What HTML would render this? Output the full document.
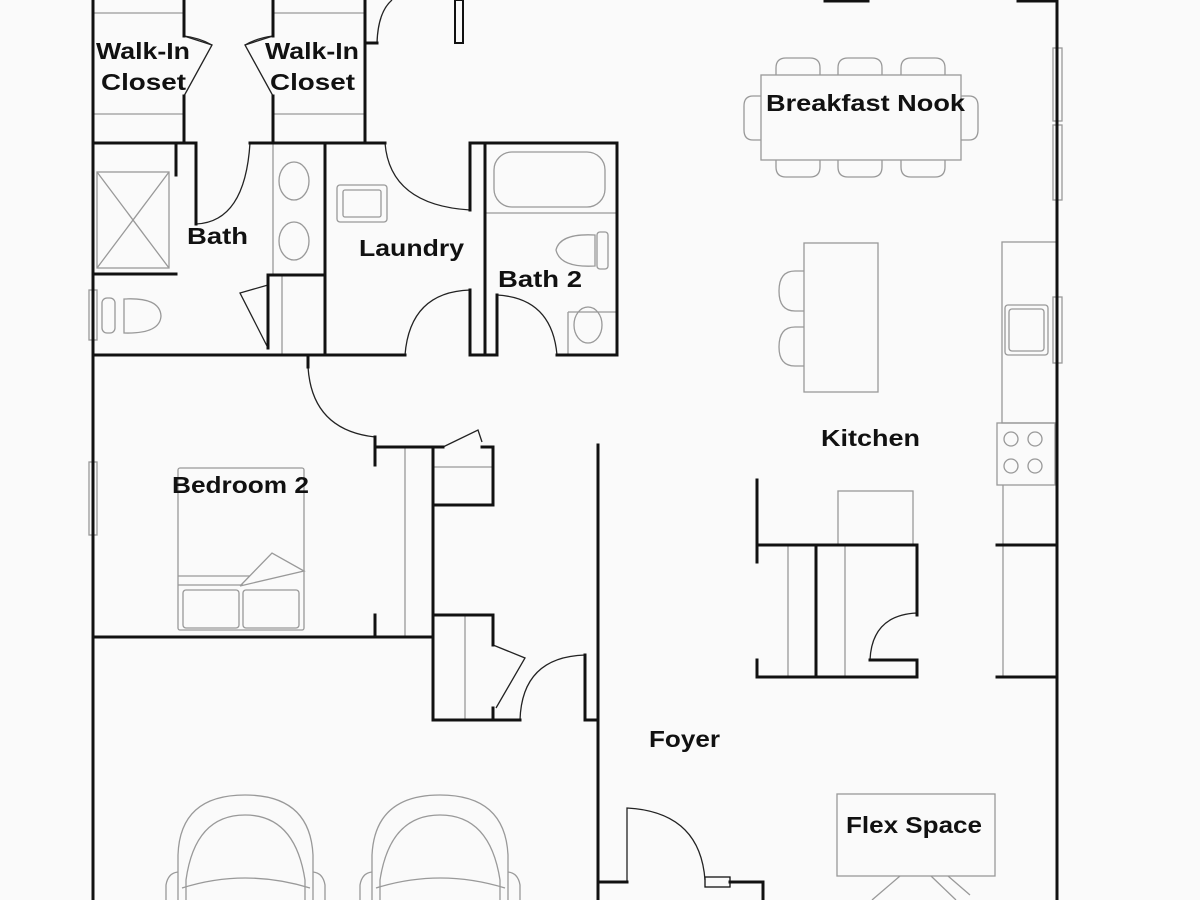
<!DOCTYPE html>
<html><head><style>
html,body{margin:0;padding:0;background:#fafafa;}
svg{display:block;}
text{font-family:"Liberation Sans",sans-serif;font-weight:bold;font-size:23px;fill:#111;}
</style></head><body>
<svg width="1200" height="900" viewBox="0 0 1200 900" xmlns="http://www.w3.org/2000/svg">
<rect width="1200" height="900" fill="#fafafa"/>
<g fill="none" stroke="#999" stroke-width="1.3">
  <line x1="93" y1="13" x2="184" y2="13"/><line x1="93" y1="114" x2="184" y2="114"/>
  <line x1="273" y1="13" x2="365" y2="13"/><line x1="273" y1="114" x2="365" y2="114"/>
  <rect x="97" y="172" width="72" height="96"/>
  <line x1="97" y1="172" x2="169" y2="268"/><line x1="169" y1="172" x2="97" y2="268"/>
  <line x1="273" y1="143" x2="273" y2="275"/>
  <ellipse cx="294" cy="181" rx="15" ry="19"/><ellipse cx="294" cy="241" rx="15" ry="19"/>
  <line x1="282" y1="275" x2="282" y2="355"/>
  <rect x="102" y="298" width="13" height="35" rx="5"/>
  <path d="M124 299 Q160 297 161 316 Q160 334 124 333 Z"/>
  <rect x="337" y="185" width="50" height="37" rx="3"/><rect x="343" y="190" width="38" height="27" rx="2"/>
  <rect x="494" y="152" width="111" height="55" rx="18"/>
  <line x1="485" y1="213" x2="617" y2="213"/>
  <path d="M595 235 Q560 233 556 250 Q560 268 595 266 Z"/><rect x="597" y="232" width="11" height="37" rx="3"/>
  <line x1="568" y1="312" x2="617" y2="312"/><line x1="568" y1="312" x2="568" y2="355"/>
  <ellipse cx="588" cy="325" rx="14" ry="18"/>
  <rect x="178" y="468" width="126" height="162" rx="2"/>
  <line x1="178" y1="576" x2="250" y2="576"/><line x1="178" y1="585" x2="243" y2="585"/>
  <polyline points="240,586 272,553 304,571 240,586"/>
  <rect x="183" y="590" width="56" height="38" rx="3"/><rect x="243" y="590" width="56" height="38" rx="3"/>
  <line x1="405" y1="447" x2="405" y2="637"/>
  <line x1="433" y1="467" x2="493" y2="467"/>
  <line x1="465" y1="615" x2="465" y2="720"/>
  <g>
   <path d="M178 900 L178 855 Q180 795 245 795 Q310 795 313 855 L313 900"/>
   <path d="M186 900 L186 880 Q195 815 245 815 Q295 815 305 880 L305 900"/>
   <path d="M178 872 Q168 873 166 885 L166 900"/><path d="M313 872 Q323 873 325 885 L325 900"/>
   <path d="M182 888 Q245 868 310 888"/>
   <path d="M372 900 L372 855 Q375 795 440 795 Q505 795 508 855 L508 900"/>
   <path d="M380 900 L380 880 Q390 815 440 815 Q490 815 500 880 L500 900"/>
   <path d="M372 872 Q362 873 360 885 L360 900"/><path d="M508 872 Q518 873 520 885 L520 900"/>
   <path d="M376 888 Q440 868 505 888"/>
  </g>
  <rect x="761" y="75" width="200" height="85"/>
  <path d="M776 75 V68 Q776 58 786 58 H810 Q820 58 820 68 V75"/>
  <path d="M838 75 V68 Q838 58 848 58 H872 Q882 58 882 68 V75"/>
  <path d="M901 75 V68 Q901 58 911 58 H935 Q945 58 945 68 V75"/>
  <path d="M776 160 V167 Q776 177 786 177 H810 Q820 177 820 167 V160"/>
  <path d="M838 160 V167 Q838 177 848 177 H872 Q882 177 882 167 V160"/>
  <path d="M901 160 V167 Q901 177 911 177 H935 Q945 177 945 167 V160"/>
  <path d="M761 96 H753 Q744 96 744 106 V130 Q744 140 753 140 H761"/>
  <path d="M961 96 H969 Q978 96 978 106 V130 Q978 140 969 140 H961"/>
  <rect x="804" y="243" width="74" height="149"/>
  <path d="M804 271 H795 Q779 271 779 291 Q779 311 795 311 H804"/>
  <path d="M804 327 H795 Q779 327 779 347 Q779 366 795 366 H804"/>
  <rect x="1002" y="242" width="55" height="181"/>
  <rect x="1005" y="305" width="43" height="50" rx="3"/><rect x="1009" y="309" width="35" height="42" rx="3"/>
  <rect x="997" y="423" width="58" height="62"/>
  <circle cx="1011" cy="439" r="7"/><circle cx="1035" cy="439" r="7"/>
  <circle cx="1011" cy="466" r="7"/><circle cx="1035" cy="466" r="7"/>
  <line x1="1003" y1="485" x2="1003" y2="677"/>
  <rect x="838" y="491" width="75" height="54"/>
  <line x1="788" y1="545" x2="788" y2="677"/><line x1="845" y1="545" x2="845" y2="677"/>
  <rect x="837" y="794" width="158" height="82"/>
  <path d="M900 876 L872 900 M931 876 L956 900 M948 876 L970 895"/>
  <rect x="89" y="290" width="8" height="50" fill="#fafafa"/>
  <rect x="89" y="462" width="8" height="73" fill="#fafafa"/>
  <rect x="1053" y="48" width="9" height="73" fill="#fafafa"/>
  <rect x="1053" y="125" width="9" height="75" fill="#fafafa"/>
  <rect x="1053" y="297" width="9" height="66" fill="#fafafa"/>
  <rect x="455" y="0" width="8" height="43" fill="#fafafa" stroke="#111" stroke-width="2"/>
  <rect x="705" y="877" width="25" height="10" fill="#fafafa" stroke="#111"/>
</g>
<g fill="none" stroke="#222" stroke-width="1.3">
  <path d="M184 36 L212 45 L184 96"/><path d="M184 36 Q200 38 212 45"/>
  <path d="M273 36 L245 45 L273 96"/><path d="M273 36 Q257 38 245 45"/>
  <path d="M377 43 Q378 12 392 0"/>
  <path d="M196 224 Q245 222 250 143"/>
  <path d="M268 285 L240 293 L268 348"/>
  <path d="M385 143 Q390 205 470 210"/>
  <path d="M405 355 Q410 292 470 290"/>
  <path d="M497 295 Q552 298 557 355"/>
  <path d="M308 367 Q312 430 375 437"/>
  <path d="M443 447 L478 430 L482 442"/>
  <path d="M493 645 L525 658 L496 708"/>
  <path d="M520 720 Q522 657 585 655"/>
  <path d="M627 882 V808 Q700 812 705 880"/>
  <path d="M870 660 Q872 615 917 613"/>
</g>
<g fill="none" stroke="#111" stroke-width="3" stroke-linecap="square">
  <line x1="93" y1="0" x2="93" y2="900"/>
  <polyline points="184,0 184,36"/><polyline points="184,96 184,143"/>
  <polyline points="273,0 273,36"/><polyline points="273,96 273,143"/>
  <polyline points="365,0 365,143"/><line x1="365" y1="43" x2="377" y2="43"/>
  <line x1="93" y1="143" x2="196" y2="143"/><line x1="250" y1="143" x2="385" y2="143"/>
  <line x1="470" y1="143" x2="617" y2="143"/>
  <line x1="176" y1="143" x2="176" y2="175"/>
  <line x1="93" y1="274" x2="176" y2="274"/>
  <line x1="196" y1="143" x2="196" y2="224"/>
  <polyline points="268,348 268,285 268,275 325,275"/>
  <line x1="325" y1="143" x2="325" y2="355"/>
  <line x1="470" y1="143" x2="470" y2="210"/><line x1="470" y1="290" x2="470" y2="355"/>
  <line x1="485" y1="143" x2="485" y2="355"/>
  <line x1="497" y1="295" x2="497" y2="355"/>
  <line x1="617" y1="143" x2="617" y2="355"/>
  <line x1="93" y1="355" x2="405" y2="355"/><line x1="470" y1="355" x2="497" y2="355"/><line x1="557" y1="355" x2="617" y2="355"/>
  <line x1="308" y1="367" x2="308" y2="355"/>
  <line x1="375" y1="437" x2="375" y2="465"/><line x1="375" y1="615" x2="375" y2="637"/>
  <line x1="375" y1="447" x2="443" y2="447"/>
  <polyline points="482,447 493,447 493,505 433,505"/>
  <line x1="433" y1="447" x2="433" y2="720"/>
  <line x1="93" y1="637" x2="433" y2="637"/>
  <polyline points="433,615 493,615 493,645"/>
  <line x1="493" y1="708" x2="493" y2="720"/>
  <line x1="433" y1="720" x2="520" y2="720"/>
  <polyline points="585,655 585,720 598,720"/>
  <line x1="598" y1="445" x2="598" y2="900"/>
  <polyline points="598,882 627,882"/><polyline points="730,882 763,882 763,900"/>
  <line x1="757" y1="480" x2="757" y2="562"/><line x1="757" y1="660" x2="757" y2="677"/>
  <line x1="757" y1="545" x2="917" y2="545"/><line x1="917" y1="545" x2="917" y2="615"/>
  <line x1="816" y1="545" x2="816" y2="677"/>
  <line x1="757" y1="677" x2="917" y2="677"/><line x1="870" y1="660" x2="917" y2="660"/><line x1="917" y1="660" x2="917" y2="677"/>
  <line x1="997" y1="545" x2="1057" y2="545"/><line x1="997" y1="677" x2="1057" y2="677"/>
  <line x1="1057" y1="0" x2="1057" y2="900"/>
  <line x1="1018" y1="1" x2="1057" y2="1"/><line x1="825" y1="1" x2="868" y2="1"/>
</g>
<g>
<text x="96" y="59" textLength="94" lengthAdjust="spacingAndGlyphs">Walk-In</text>
<text x="101" y="90" textLength="85" lengthAdjust="spacingAndGlyphs">Closet</text>
<text x="265" y="59" textLength="94" lengthAdjust="spacingAndGlyphs">Walk-In</text>
<text x="270" y="90" textLength="85" lengthAdjust="spacingAndGlyphs">Closet</text>
<text x="187" y="244" textLength="61" lengthAdjust="spacingAndGlyphs">Bath</text>
<text x="359" y="256" textLength="105" lengthAdjust="spacingAndGlyphs">Laundry</text>
<text x="498" y="287" textLength="84" lengthAdjust="spacingAndGlyphs">Bath 2</text>
<text x="172" y="493" textLength="137" lengthAdjust="spacingAndGlyphs">Bedroom 2</text>
<text x="766" y="111" textLength="199" lengthAdjust="spacingAndGlyphs">Breakfast Nook</text>
<text x="821" y="446" textLength="99" lengthAdjust="spacingAndGlyphs">Kitchen</text>
<text x="649" y="747" textLength="71" lengthAdjust="spacingAndGlyphs">Foyer</text>
<text x="846" y="833" textLength="136" lengthAdjust="spacingAndGlyphs">Flex Space</text>
</g>
</svg>
</body></html>
